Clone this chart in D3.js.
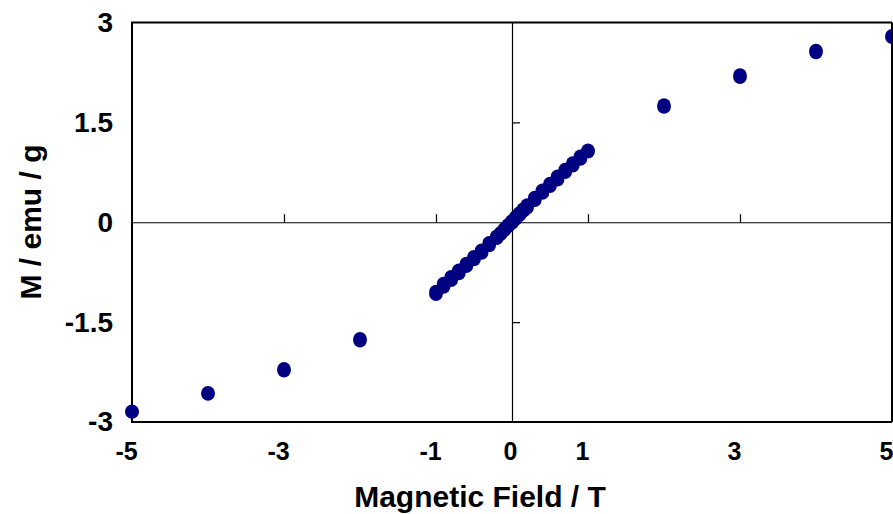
<!DOCTYPE html>
<html>
<head>
<meta charset="utf-8">
<script src="https://cdn.jsdelivr.net/npm/d3@7"></script>
<style>
  body { margin: 0; background: #fff; }
  svg { display: block; font-family: "Liberation Sans", Arial, sans-serif; font-weight: bold; }
  .axis text { fill: #000; }
</style>
</head>
<body>
<div id="chart"></div>
<script>
// descending branch (field 5 T -> -5 T)
const fieldDown  = [5, 4, 3, 2, 1, 0.9, 0.8, 0.7, 0.6, 0.5, 0.4, 0.3, 0.2, 0.15, 0.1, 0.05, 0,
                    -0.05, -0.1, -0.15, -0.2, -0.3, -0.4, -0.5, -0.6, -0.7, -0.8, -0.9, -1, -2, -3, -4, -5];
const momentDown = [2.80, 2.58, 2.21, 1.76, 1.08, 0.99, 0.89, 0.79, 0.69, 0.58, 0.48, 0.37, 0.26, 0.20, 0.14, 0.08, 0.02,
                    -0.04, -0.10, -0.16, -0.21, -0.31, -0.42, -0.52, -0.62, -0.72, -0.82, -0.92, -1.04, -1.75, -2.20, -2.56, -2.84];
// ascending branch (field -5 T -> 5 T)
const fieldUp    = [-5, -4, -3, -2, -1, -0.9, -0.8, -0.7, -0.6, -0.5, -0.4, -0.3, -0.2, -0.15, -0.1, -0.05, 0,
                    0.05, 0.1, 0.15, 0.2, 0.3, 0.4, 0.5, 0.6, 0.7, 0.8, 0.9, 1, 2, 3, 4, 5];
const momentUp   = [-2.85, -2.58, -2.23, -1.78, -1.08, -0.97, -0.87, -0.77, -0.66, -0.56, -0.46, -0.35, -0.24, -0.18, -0.12, -0.06, -0.01,
                    0.05, 0.11, 0.17, 0.22, 0.33, 0.44, 0.54, 0.64, 0.75, 0.85, 0.95, 1.06, 1.73, 2.18, 2.55, 2.78];

const xTicks = [-5, -3, -1, 0, 1, 3, 5];
const yTicks = [-3, -1.5, 0, 1.5, 3];
const xInnerTicks = [-3, -1, 1, 3];
const yInnerTicks = [-1.5, 1.5];

;(() => {
  const width = 893, height = 514;
  const left = 132, right = 892, top = 22.5, bottom = 422;

  const svg = d3.select("#chart").append("svg")
    .attr("width", width)
    .attr("height", height);

  const x = d3.scaleLinear().domain([-5, 5]).range([left, right]);
  const y = d3.scaleLinear().domain([-3, 3]).range([bottom, top]);

  const points = fieldDown.map((h, i) => ({ h, m: momentDown[i] }))
    .concat(fieldUp.map((h, i) => ({ h, m: momentUp[i] })));

  // frame (left, top, bottom)
  svg.append("path")
    .attr("d", `M${right},${top}H${left}V${bottom}H${right}`)
    .attr("fill", "none")
    .attr("stroke", "#000")
    .attr("stroke-width", 2);

  // tick labels (plain hyphen for minus, like the original)
  svg.append("g")
    .attr("class", "axis")
    .attr("transform", `translate(0,${bottom})`)
    .call(d3.axisBottom(x).tickValues(xTicks).tickSize(0).tickPadding(20).tickFormat(d => String(d)))
    .call(g => g.select(".domain").remove())
    .selectAll("text")
    .attr("dx", d => d === 0 ? -2 : -6)
    .style("font-size", "25px").style("font-family", null);

  svg.append("g")
    .attr("class", "axis")
    .attr("transform", `translate(${left},0)`)
    .call(d3.axisLeft(y).tickValues(yTicks).tickSize(0).tickPadding(19).tickFormat(d => String(d)))
    .call(g => g.select(".domain").remove())
    .selectAll("text").style("font-size", "28px").style("font-family", null);

  // zero axes with inner ticks
  svg.append("g")
    .attr("transform", `translate(0,${y(0)})`)
    .call(d3.axisTop(x).tickValues(xInnerTicks).tickSize(8).tickSizeOuter(0).tickFormat(""))
    .call(g => g.selectAll("path, line").attr("stroke", "#000").attr("stroke-width", 1.2));

  svg.append("g")
    .attr("transform", `translate(${x(0)},0)`)
    .call(d3.axisRight(y).tickValues(yInnerTicks).tickSize(8).tickSizeOuter(0).tickFormat(""))
    .call(g => g.selectAll("path, line").attr("stroke", "#000").attr("stroke-width", 1.2));

  // data points
  svg.append("g")
    .selectAll("circle")
    .data(points)
    .join("circle")
    .attr("cx", d => x(d.h))
    .attr("cy", d => y(d.m))
    .attr("r", 6.8)
    .attr("fill", "#000080");

  // right edge of frame drawn over the points
  svg.append("line")
    .attr("x1", right).attr("x2", right)
    .attr("y1", top).attr("y2", bottom)
    .attr("stroke", "#000")
    .attr("stroke-width", 2);

  // axis titles
  svg.append("text")
    .attr("x", 480)
    .attr("y", 507)
    .attr("text-anchor", "middle")
    .style("font-size", "30px")
    .text("Magnetic Field / T");

  svg.append("text")
    .attr("transform", `translate(41,222) rotate(-90)`)
    .attr("text-anchor", "middle")
    .style("font-size", "30px")
    .text("M / emu / g");
})();
</script>
</body>
</html>
